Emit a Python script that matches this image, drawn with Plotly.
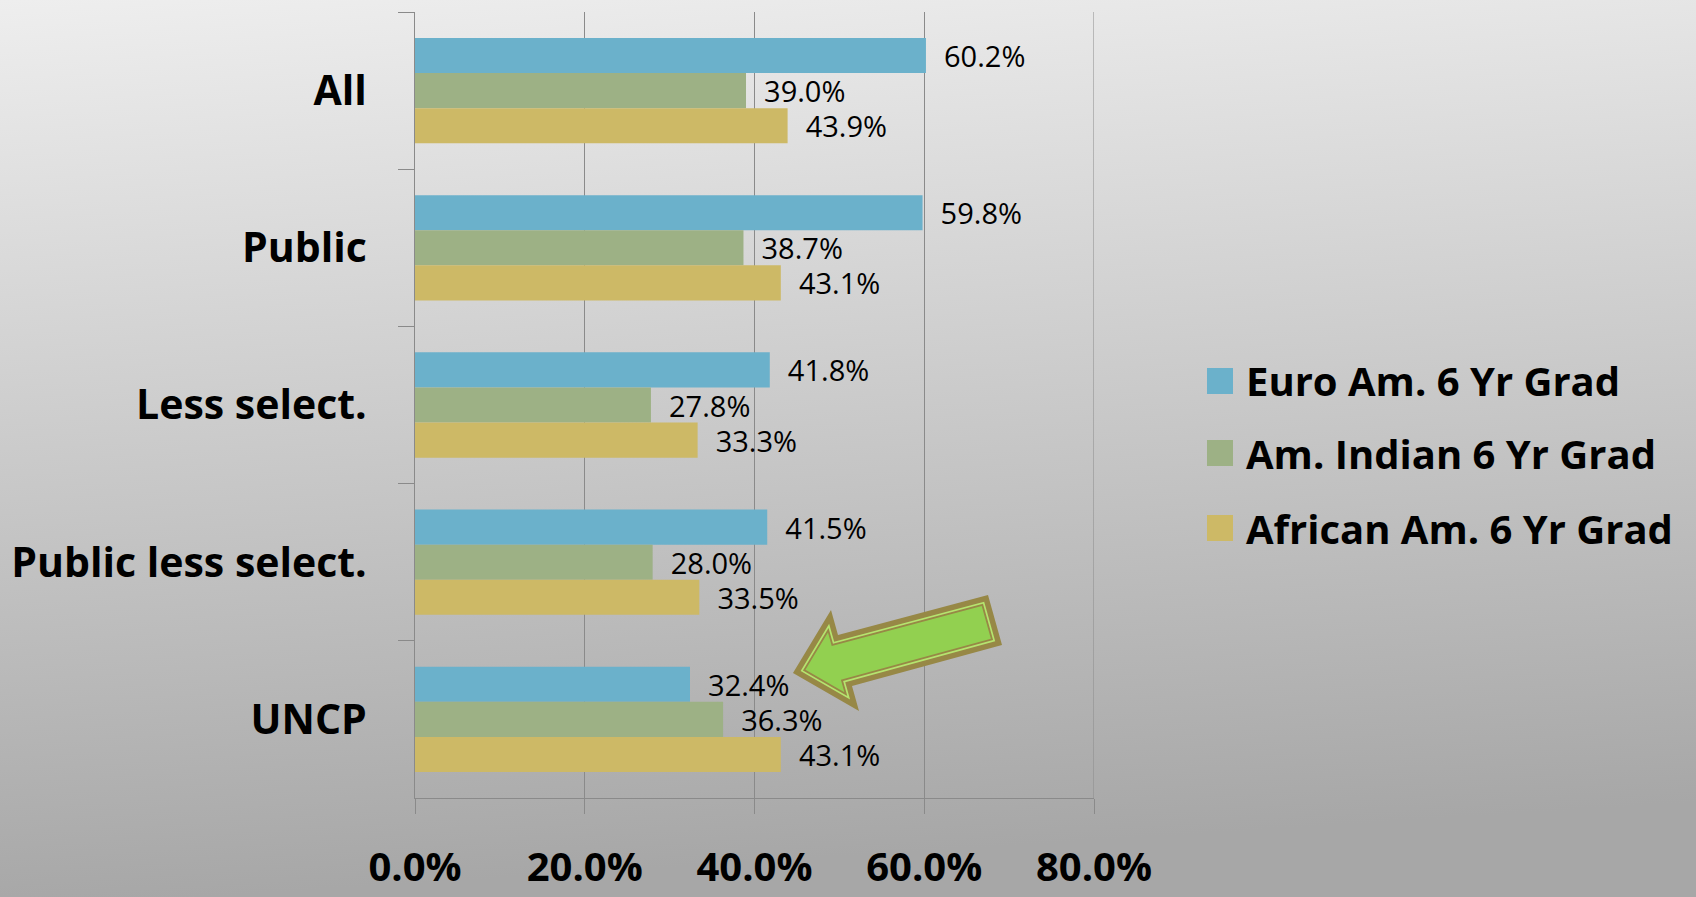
import base64
import numpy as np
import plotly.graph_objects as go

# ---------------- data ----------------
categories = ["All", "Public", "Less select.", "Public less select.", "UNCP"]
series_names = ["Euro Am. 6 Yr Grad", "Am. Indian 6 Yr Grad", "African Am. 6 Yr Grad"]
euro_am = [0.602, 0.598, 0.418, 0.415, 0.324]
am_indian = [0.390, 0.387, 0.278, 0.280, 0.363]
african_am = [0.439, 0.431, 0.333, 0.335, 0.431]
x_ticks = [0.0, 0.2, 0.4, 0.6, 0.8]

series_values = [euro_am, am_indian, african_am]
colors = ["#6bb1cb", "#9db185", "#cdb966"]
grid_color = "#8a8a8a"

# ---------------- geometry ----------------
W, H = 1696, 897
ML, MR, MT, MB = 415, 602, 12, 99
PW, PH = W - ML - MR, H - MT - MB


def px_to_paper(x, y):
    return (x - ML) / PW, (H - MB - y) / PH


fig = go.Figure()
for name, vals, col in zip(series_names, series_values, colors):
    fig.add_trace(go.Bar(
        y=categories, x=vals, name=name, orientation="h",
        marker=dict(color=col, line=dict(width=0)),
        texttemplate="\u00a0\u00a0%{x:.1%}", textposition="outside",
        textfont=dict(family="Open Sans", size=29, color="#000000"),
        constraintext="none", cliponaxis=False, showlegend=False,
    ))

# background gradient
svg = ('<svg xmlns="http://www.w3.org/2000/svg" width="100" height="100" preserveAspectRatio="none">'
       '<defs><linearGradient id="g" x1="0" y1="0" x2="0.12" y2="1">'
       '<stop offset="0" stop-color="#eeeeee"/><stop offset="1" stop-color="#a7a7a7"/>'
       '</linearGradient></defs><rect width="100" height="100" fill="url(#g)"/></svg>')
src = "data:image/svg+xml;base64," + base64.b64encode(svg.encode()).decode()
fig.add_layout_image(dict(source=src, xref="paper", yref="paper",
                          x=-ML / PW, y=1 + MT / PH, sizex=W / PW, sizey=H / PH,
                          xanchor="left", yanchor="top", sizing="stretch", layer="below"))

# gridline at the right end of the value axis (80%)
fig.add_shape(type="line", xref="x", yref="paper", x0=x_ticks[-1], x1=x_ticks[-1], y0=0, y1=1,
              line=dict(color=grid_color, width=1), layer="below")

# custom legend (large swatches)
legend_y = [381, 453, 528]
for name, col, ly in zip(series_names, colors, legend_y):
    x0, y0 = px_to_paper(1207, ly - 13)
    x1, y1 = px_to_paper(1233, ly + 13)
    fig.add_shape(type="rect", xref="paper", yref="paper", x0=x0, x1=x1, y0=y0, y1=y1,
                  fillcolor=col, line=dict(width=0))
    tx, ty = px_to_paper(1244, ly)
    fig.add_annotation(xref="paper", yref="paper", x=tx, y=ty, text=name, showarrow=False,
                       xanchor="left", yanchor="middle",
                       font=dict(family="Open Sans", size=40, color="#000000", weight="bold"))

# block arrow decoration
arrow_outer = np.array([(793, 673), (831, 610), (838, 635), (988, 595),
                        (1002, 645), (852, 686), (859, 711)], dtype=float)


def inset(poly, d):
    n = len(poly)
    area = 0.5 * sum(poly[i][0] * poly[(i + 1) % n][1] - poly[(i + 1) % n][0] * poly[i][1] for i in range(n))
    sgn = 1 if area > 0 else -1
    lines = []
    for i in range(n):
        a, b = poly[i], poly[(i + 1) % n]
        t = (b - a) / np.linalg.norm(b - a)
        nrm = sgn * np.array([-t[1], t[0]])
        lines.append((a + d * nrm, t))
    out = []
    for i in range(n):
        p1, t1 = lines[i - 1]
        p2, t2 = lines[i]
        A = np.array([[t1[0], -t2[0]], [t1[1], -t2[1]]])
        s = np.linalg.solve(A, p2 - p1)
        out.append(p1 + s[0] * t1)
    return np.array(out)


def poly_path(poly):
    pts = [px_to_paper(x, y) for x, y in poly]
    return "M " + " L ".join(f"{x:.5f},{y:.5f}" for x, y in pts) + " Z"


for d, col in [(0, "#978846"), (5.5, "#b5e46f"), (7.2, "#978846"), (9.0, "#92d050")]:
    fig.add_shape(type="path", xref="paper", yref="paper", path=poly_path(inset(arrow_outer, d)),
                  fillcolor=col, line=dict(width=0), layer="above")

fig.update_layout(
    width=W, height=H,
    margin=dict(l=ML, r=MR, t=MT, b=MB, pad=0, autoexpand=False),
    barmode="group", bargap=0.33, bargroupgap=0,
    paper_bgcolor="#cccccc", plot_bgcolor="rgba(0,0,0,0)",
    showlegend=False,
    xaxis=dict(range=[0, 0.8], tickvals=x_ticks, tickformat=".1%", automargin=False,
               showgrid=True, gridcolor=grid_color, gridwidth=1,
               showline=True, linecolor=grid_color, linewidth=1,
               ticks="outside", ticklen=15, tickcolor=grid_color,
               zeroline=False, ticklabelstandoff=19,
               tickfont=dict(family="Open Sans", size=40, color="#000000", weight="bold")),
    yaxis=dict(categoryorder="array", categoryarray=categories, autorange="reversed",
               automargin=False,
               showline=True, linecolor=grid_color, linewidth=1,
               ticks="outside", ticklen=16, tickcolor=grid_color, tickson="boundaries",
               showgrid=False, zeroline=False, ticklabelstandoff=39,
               tickfont=dict(family="Open Sans", size=41, color="#000000", weight="bold")),
)

fig.write_html("out.html", config={"displayModeBar": False},
               post_script="document.body.style.margin='0';document.body.style.overflow='hidden';")
